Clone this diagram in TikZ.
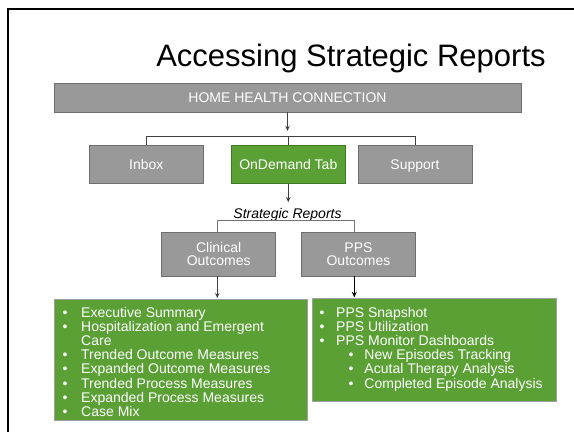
\documentclass[tikz,border=0pt]{standalone}
\usepackage{fontspec}
\setmainfont{Liberation Sans}
\usetikzlibrary{arrows.meta,calc}
\definecolor{boxgray}{HTML}{999999}
\definecolor{boxedge}{HTML}{6E6E6E}
\definecolor{leaf}{HTML}{5AA034}
\definecolor{leafedge}{HTML}{3E7A22}
\definecolor{linegray}{HTML}{404040}
\definecolor{listedge}{HTML}{A0A0A0}
\begin{document}
\begin{tikzpicture}[x=1pt,y=-1pt,
  graybox/.style={draw=boxedge, line width=0.7pt, fill=boxgray, text=white,
    font=\fontsize{14}{12.6}\selectfont, inner sep=0pt, align=center},
  greenbox/.style={graybox, fill=leaf, draw=leafedge},
  listbox/.style={draw=listedge, line width=0.7pt, fill=leaf, inner sep=0pt, anchor=north west},
  listtext/.style={text=white, inner sep=0pt, anchor=base west},
  conn/.style={draw=linegray, line width=0.8pt},
  conn2/.style={draw=black!55, line width=0.8pt},
  arr/.style={draw=linegray, line width=0.8pt, -{Stealth[length=5pt,width=4.5pt]}},
  arrb/.style={draw=black, line width=1.3pt, -{Stealth[length=5.5pt,width=5pt]}}
]
\useasboundingbox (0,0) rectangle (574,432);
\fill[white] (0,0) rectangle (574,432);
\draw[line width=2pt] (8,432) -- (8,8.5) -- (574,8.5);

\node[font=\fontsize{31}{31}\selectfont, anchor=base, inner sep=0pt] (title) at (351,66) {Accessing Strategic Reports};

\node[graybox, minimum width=467pt, minimum height=29pt, text height=10pt, text depth=0pt] (hhc) at (287.5,97.5) {HOME HEALTH CONNECTION};

\node[graybox, minimum width=114pt, minimum height=38pt, text height=10pt, text depth=0pt] (inbox) at (146.3,164.3) {Inbox};
\node[greenbox, minimum width=114pt, minimum height=38pt, text height=10pt, text depth=0pt] (ondemand) at (288.3,164.3) {OnDemand Tab};
\node[graybox, minimum width=114pt, minimum height=38pt, text height=10pt, text depth=0pt] (support) at (415,164.3) {Support};

\draw[arr] (hhc.south) -- ++(0,18.5);
\draw[conn] (inbox.north) -- ++(0,-8.6) -| (support.north);
\draw[conn] (ondemand.north) -- ++(0,-8.6);

\draw[arr] (ondemand.south) -- ++(0,18.4);
\node[font=\fontsize{14}{14}\selectfont\itshape, anchor=base, inner sep=0pt] (sr) at (287.5,218) {Strategic Reports};

\node[graybox, minimum width=114pt, minimum height=44pt] (clin) at (218.7,254) {Clinical\\Outcomes};
\node[graybox, minimum width=114pt, minimum height=44pt] (pps) at (358.5,254) {PPS\\Outcomes};

\coordinate (bl) at (217.3,220.7);
\coordinate (br) at (354.3,220.7);
\draw[conn2] (clin.north -| bl) |- (br) -- (br |- pps.north);

\node[listbox, minimum width=253pt, minimum height=121pt] (clinlist) at (54.3,299) {};
\node[listbox, minimum width=243.4pt, minimum height=102.4pt] (ppslist) at (312.3,298.3) {};

\draw[arr] (clin.south -| bl) -- ($(clinlist.north -| bl)+(0,-1)$);
\draw[arrb] (pps.south -| br) -- ($(ppslist.north -| br)+(0,-1)$);

\node[listtext, font=\fontsize{14}{13.63}\selectfont] (clintext) at (62.3,317.3) {%
\begin{tabular}[t]{@{}l@{}}
\makebox[18.7pt][l]{•}Executive Summary\\
\makebox[18.7pt][l]{•}Hospitalization and Emergent\\
\hspace*{18.7pt}Care\\
\makebox[18.7pt][l]{•}Trended Outcome Measures\\
\makebox[18.7pt][l]{•}Expanded Outcome Measures\\
\makebox[18.7pt][l]{•}Trended Process Measures\\
\makebox[18.7pt][l]{•}Expanded Process Measures\\
\makebox[18.7pt][l]{•}Case Mix
\end{tabular}};

\node[listtext, font=\fontsize{14}{13.4}\selectfont] (ppstext) at (319.3,317.3) {%
\begin{tabular}[t]{@{}l@{}}
\makebox[16.7pt][l]{•}PPS Snapshot\\
\makebox[16.7pt][l]{•}PPS Utilization\\
\makebox[16.7pt][l]{•}PPS Monitor Dashboards\\
\hspace*{29pt}\makebox[16pt][l]{•}New Episodes Tracking\\
\hspace*{29pt}\makebox[16pt][l]{•}Acutal Therapy Analysis\\
\hspace*{29pt}\makebox[16pt][l]{•}Completed Episode Analysis
\end{tabular}};
\end{tikzpicture}
\end{document}
